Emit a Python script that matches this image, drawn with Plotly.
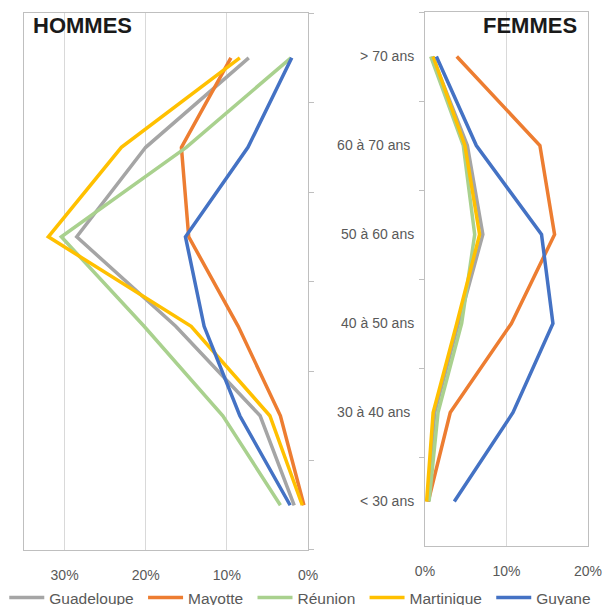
import plotly.graph_objects as go

# Age groups, bottom to top
ages = ["< 30 ans", "30 à 40 ans", "40 à 50 ans", "50 à 60 ans", "60 à 70 ans", "> 70 ans"]
age_labels = ["< 30 ans", "30 à 40 ans\u00a0", "40 à 50 ans", "50 à 60 ans", "60 à 70 ans\u00a0", "> 70 ans"]

territoires = ["Guadeloupe", "Mayotte", "Réunion", "Martinique", "Guyane"]

# Share of each age group (%), men
hommes_guadeloupe = [1.7, 5.9, 16.3, 28.5, 20.0, 7.3]
hommes_mayotte = [0.5, 3.4, 8.6, 14.7, 15.6, 9.5]
hommes_reunion = [3.4, 10.5, 20.2, 30.4, 15.0, 2.1]
hommes_martinique = [0.7, 4.7, 14.4, 32.0, 23.0, 8.4]
hommes_guyane = [2.2, 8.4, 12.8, 15.1, 7.4, 2.0]

# Share of each age group (%), women
femmes_guadeloupe = [0.3, 1.2, 4.1, 7.1, 5.2, 0.9]
femmes_mayotte = [0.4, 3.1, 10.6, 15.9, 14.1, 3.9]
femmes_reunion = [0.5, 1.6, 4.5, 6.1, 4.7, 0.7]
femmes_martinique = [0.2, 1.0, 3.9, 6.7, 4.9, 1.0]
femmes_guyane = [3.6, 10.8, 15.7, 14.3, 6.3, 1.4]

hommes = [hommes_guadeloupe, hommes_mayotte, hommes_reunion, hommes_martinique, hommes_guyane]
femmes = [femmes_guadeloupe, femmes_mayotte, femmes_reunion, femmes_martinique, femmes_guyane]

COLORS = {
    "Guadeloupe": "#A5A5A5",
    "Mayotte": "#ED7D31",
    "Réunion": "#A9D18E",
    "Martinique": "#FFC000",
    "Guyane": "#4472C4",
}

FONT = "Liberation Sans, Arial, sans-serif"
TXT = "#595959"
AXIS = "#BFBFBF"
GRID = "#D9D9D9"

fig = go.Figure()

for i, (name, h, f) in enumerate(zip(territoires, hommes, femmes)):
    # a trailing space widens the gap between legend entries
    label = name if i == len(territoires) - 1 else name + "\u00a0"
    fig.add_trace(go.Scatter(
        x=h, y=ages, mode="lines", name=label,
        line=dict(color=COLORS[name], width=3.5),
        xaxis="x", yaxis="y", legendgroup=name,
    ))
    fig.add_trace(go.Scatter(
        x=f, y=ages, mode="lines", name=name, showlegend=False,
        line=dict(color=COLORS[name], width=3.5),
        xaxis="x2", yaxis="y2", legendgroup=name,
    ))

common_x = dict(
    dtick=10, ticksuffix="%", showgrid=True, gridcolor=GRID, gridwidth=1,
    zeroline=False, showline=True, mirror=True, linecolor=AXIS, linewidth=1,
    ticks="", tickfont=dict(family=FONT, size=14, color=TXT), ticklabelstandoff=12,
)
common_y = dict(
    type="category", categoryarray=ages, range=[-0.5, 5.5],
    tickson="boundaries", ticks="outside", ticklen=5, tickcolor=AXIS,
    showgrid=False, zeroline=False, showline=True, mirror=True,
    linecolor=AXIS, linewidth=1,
)

# page body adds an 8px margin, so the figure is drawn 8px smaller;
# right margin kept at 0 so the one-row legend has the full width
fig.update_layout(
    width=603, height=597,
    margin=dict(l=16, r=0, t=4, b=55, autoexpand=False),
    plot_bgcolor="white", paper_bgcolor="white",
    font=dict(family=FONT, color=TXT),
    xaxis=dict(domain=[0, 0.4838], range=[35, 0], anchor="y", **common_x),
    xaxis2=dict(domain=[0.6831, 0.9608], range=[0, 20], anchor="y2", **common_x),
    yaxis=dict(domain=[0, 0.998], side="right", anchor="x", showticklabels=False, **common_y),
    yaxis2=dict(domain=[0.0074, 1], side="left", anchor="x2",
                tickmode="array", tickvals=ages, ticktext=age_labels,
                tickfont=dict(family=FONT, size=14, color=TXT), ticklabelstandoff=7,
                **common_y),
    showlegend=True,
    legend=dict(
        orientation="h", x=-0.0336, xanchor="left", y=-0.089, yanchor="middle",
        itemwidth=35,
        font=dict(family=FONT, size=15.5, color=TXT), bgcolor="rgba(0,0,0,0)",
    ),
    annotations=[
        dict(text="<b>HOMMES</b>", xref="paper", yref="paper", x=0.0119, y=0.974,
             xanchor="left", yanchor="middle", showarrow=False,
             font=dict(family=FONT, size=22, color="#1A1A1A")),
        dict(text="<b>FEMMES</b>", xref="paper", yref="paper", x=0.9455, y=0.974,
             xanchor="right", yanchor="middle", showarrow=False,
             font=dict(family=FONT, size=22, color="#1A1A1A")),
    ],
)

fig.write_html("out.html")
